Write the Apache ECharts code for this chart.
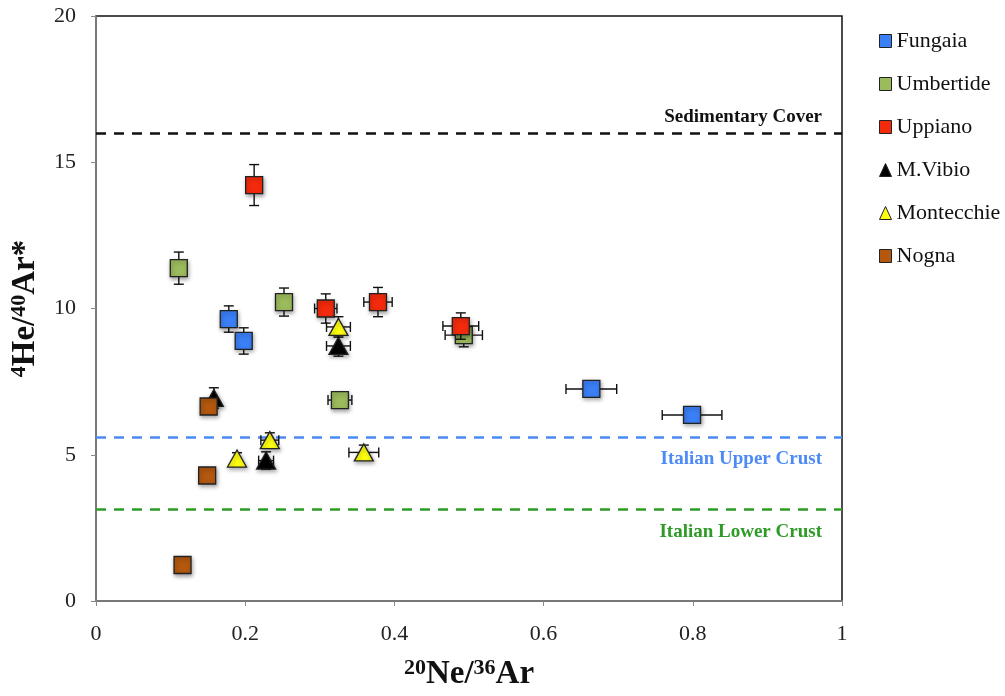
<!DOCTYPE html>
<html>
<head>
<meta charset="utf-8">
<script src="https://cdn.jsdelivr.net/npm/echarts@6/dist/echarts.min.js"></script>
<style>
  html, body { margin: 0; padding: 0; background: #fff; }
  #chart { width: 1005px; height: 696px; }
</style>
</head>
<body>
<div id="chart"></div>
<script>
// Each point: [20Ne/36Ar, 4He/40Ar*, x error, y error]
const fungaia    = [[0.178, 9.64, 0, 0.45], [0.198, 8.89, 0, 0.45], [0.664, 7.25, 0.034, 0], [0.799, 6.36, 0.040, 0]];
const umbertide  = [[0.111, 11.38, 0, 0.55], [0.252, 10.22, 0, 0.48], [0.327, 6.87, 0.016, 0.2], [0.493, 9.09, 0.025, 0.4]];
const uppiano    = [[0.212, 14.22, 0, 0.7], [0.308, 10.00, 0.015, 0.5], [0.378, 10.22, 0.019, 0.5], [0.489, 9.40, 0.024, 0.45]];
const mVibio     = [[0.158, 6.94, 0, 0.35], [0.325, 8.72, 0.016, 0.35], [0.228, 4.80, 0.010, 0.3]];
const montecchie = [[0.325, 9.37, 0.016, 0.35], [0.233, 5.50, 0.012, 0.25], [0.189, 4.87, 0, 0.2], [0.359, 5.08, 0.020, 0.25]];
const nogna      = [[0.151, 6.65, 0, 0], [0.149, 4.29, 0, 0], [0.116, 1.23, 0, 0]];

const seriesNames = ['Fungaia', 'Umbertide', 'Uppiano', 'M.Vibio', 'Montecchie', 'Nogna'];
const seriesData  = [fungaia, umbertide, uppiano, mVibio, montecchie, nogna];

// Reference source compositions (4He/40Ar*)
const refLevels = [16, 5.6, 3.15];
const refNames  = ['Sedimentary Cover', 'Italian Upper Crust', 'Italian Lower Crust'];

const xTicks = [0, 0.2, 0.4, 0.6, 0.8, 1];
const yTicks = [0, 5, 10, 15, 20];

const colors  = ['#3a7ff6', '#9bbb5c', '#f42a0c', '#000000', '#ffff10', '#b3580e'];
const symbols = ['rect', 'rect', 'rect', 'triangle', 'triangle', 'rect'];
const refColors = ['#111111', '#4d8af6', '#2f9a27'];
const serif = '"Liberation Serif", "DejaVu Serif", serif';

const chart = echarts.init(document.getElementById('chart'), null, { renderer: 'canvas' });

// Whiskers with end caps for every point
function errorBars(params, api) {
  const x = api.value(0), y = api.value(1), ex = api.value(2), ey = api.value(3);
  const c = api.coord([x, y]);
  const children = [];
  const style = { stroke: '#111', lineWidth: 1.4 };
  const cap = 5;
  if (ey > 0) {
    const top = api.coord([x, y + ey]), bot = api.coord([x, y - ey]);
    children.push({ type: 'line', shape: { x1: c[0], y1: top[1], x2: c[0], y2: bot[1] }, style });
    children.push({ type: 'line', shape: { x1: c[0] - cap, y1: top[1], x2: c[0] + cap, y2: top[1] }, style });
    children.push({ type: 'line', shape: { x1: c[0] - cap, y1: bot[1], x2: c[0] + cap, y2: bot[1] }, style });
  }
  if (ex > 0) {
    const l = api.coord([x - ex, y]), r = api.coord([x + ex, y]);
    children.push({ type: 'line', shape: { x1: l[0], y1: c[1], x2: r[0], y2: c[1] }, style });
    children.push({ type: 'line', shape: { x1: l[0], y1: c[1] - cap, x2: l[0], y2: c[1] + cap }, style });
    children.push({ type: 'line', shape: { x1: r[0], y1: c[1] - cap, x2: r[0], y2: c[1] + cap }, style });
  }
  return { type: 'group', children };
}

const markerStyle = i => ({
  color: colors[i],
  opacity: 1,
  borderColor: '#222',
  borderWidth: 1.3,
  shadowBlur: 4,
  shadowColor: 'rgba(0,0,0,0.35)',
  shadowOffsetX: 1,
  shadowOffsetY: 2
});

const series = [];
// Markers first so the legend takes its icons from them
seriesNames.forEach((name, i) => {
  series.push({
    type: 'scatter',
    name: name,
    data: seriesData[i].map(p => [p[0], p[1]]),
    symbol: symbols[i],
    symbolSize: symbols[i] === 'rect' ? 17 : [19, 17],
    z: 3 + i * 2,
    itemStyle: markerStyle(i),
    emphasis: { disabled: true }
  });
});
seriesNames.forEach((name, i) => {
  series.push({
    type: 'custom',
    name: name,
    renderItem: errorBars,
    data: seriesData[i],
    encode: { x: 0, y: 1 },
    itemStyle: { color: colors[i] },
    z: 2 + i * 2,
    silent: true
  });
});

// Horizontal dashed reference levels
series.push({
  type: 'line',
  name: 'ref',
  data: [],
  silent: true,
  markLine: {
    symbol: 'none',
    silent: true,
    data: refLevels.map((v, i) => ({
      yAxis: v,
      lineStyle: { color: refColors[i], type: [10, 8], width: 2.6 },
      label: {
        show: true,
        formatter: refNames[i],
        position: i === 0 ? 'insideEndTop' : 'insideEndBottom',
        distance: i === 0 ? [20, 6] : (i === 1 ? [20, 12] : [20, 14]),
        color: refColors[i],
        fontFamily: serif,
        fontWeight: 'bold',
        fontSize: 19
      }
    }))
  }
});

const titleRich = {
  sup: { fontFamily: serif, fontWeight: 'bold', fontSize: 22, verticalAlign: 'top', color: '#111', padding: [0, 0, 12, 0] },
  b: { fontFamily: serif, fontWeight: 'bold', fontSize: 33, color: '#111' }
};

chart.setOption({
  animation: false,
  backgroundColor: '#fff',
  grid: {
    left: 95, right: 163, top: 16, bottom: 95,
    show: true, borderColor: '#111', borderWidth: 1.5
  },
  legend: {
    data: seriesNames.map((n, i) => ({ name: n, icon: symbols[i], itemStyle: { color: colors[i], borderColor: '#222', borderWidth: 1 } })),
    orient: 'vertical',
    left: 874,
    top: 24,
    itemWidth: 12,
    itemHeight: 13,
    itemGap: 19,
    textStyle: { fontFamily: serif, fontSize: 22, color: '#111', lineHeight: 24 }
  },
  xAxis: {
    type: 'value',
    min: xTicks[0], max: xTicks[xTicks.length - 1], interval: 0.2,
    axisLine: { lineStyle: { color: '#888', width: 1.5 } },
    axisTick: { show: true, length: 5, lineStyle: { color: '#888' } },
    splitLine: { show: false },
    axisLabel: { margin: 22, fontFamily: serif, fontSize: 22, color: '#222' },
    name: '{sup|20}{b|Ne/}{sup|36}{b|Ar}',
    nameLocation: 'middle',
    nameGap: 56,
    nameTextStyle: { rich: titleRich }
  },
  yAxis: {
    type: 'value',
    min: yTicks[0], max: yTicks[yTicks.length - 1], interval: 5,
    axisLine: { show: true, lineStyle: { color: '#888', width: 1.5 } },
    axisTick: { show: true, length: 5, lineStyle: { color: '#888' } },
    splitLine: { show: false },
    axisLabel: { margin: 20, fontFamily: serif, fontSize: 22, color: '#222' },
    name: '{sup|4}{b|He/}{sup|40}{b|Ar*}',
    nameLocation: 'middle',
    nameGap: 54,
    nameRotate: 90,
    nameTextStyle: { rich: titleRich }
  },
  series: series
});
</script>
</body>
</html>
